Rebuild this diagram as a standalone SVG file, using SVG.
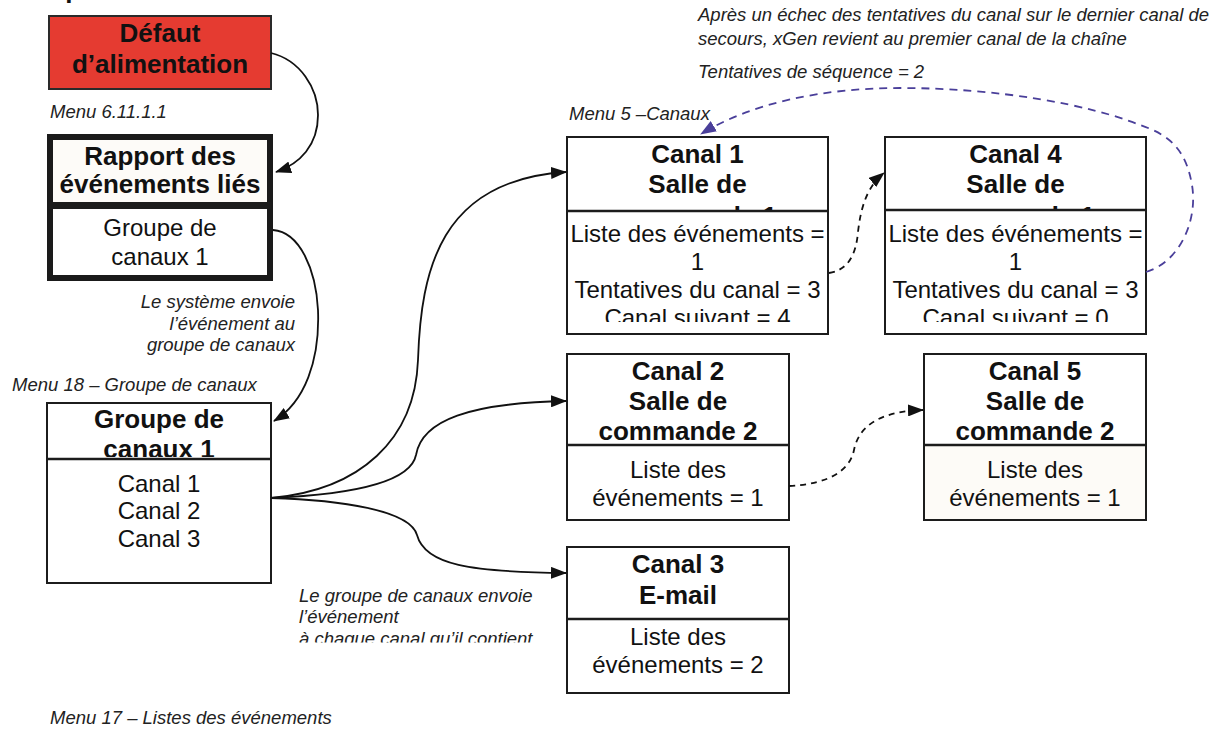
<svg xmlns="http://www.w3.org/2000/svg" width="1216" height="729" viewBox="0 0 1216 729">
  <style>
    text { font-family: "Liberation Sans", Arial, sans-serif; fill: #111; }
    .hd { font-size: 26px; font-weight: bold; text-anchor: middle; }
    .bd { font-size: 24px; text-anchor: middle; }
    .note { font-size: 18.5px; font-style: italic; fill: #222; }
    .box { fill: #fff; stroke: #1c1c1c; stroke-width: 2; }
    .div { stroke: #1c1c1c; stroke-width: 2.5; }
    .link { fill: none; stroke: #111; stroke-width: 1.8; }
    .dash { fill: none; stroke: #111; stroke-width: 1.8; stroke-dasharray: 6 5; }
    .loop { fill: none; stroke: #4a3f9a; stroke-width: 1.8; stroke-dasharray: 8 6; }
  </style>
  <defs>
    <marker id="arr" markerUnits="userSpaceOnUse" markerWidth="16" markerHeight="12" refX="15" refY="6" orient="auto">
      <path d="M0,0 L16,6 L0,12 Z" fill="#111"/>
    </marker>
    <marker id="arrP" markerUnits="userSpaceOnUse" markerWidth="16" markerHeight="12" refX="15" refY="6" orient="auto">
      <path d="M0,0 L16,6 L0,12 Z" fill="#4a3f9a"/>
    </marker>
    <clipPath id="cpGrpHd"><rect x="48" y="404" width="222" height="53"/></clipPath>
    <clipPath id="cpC1Hd"><rect x="568" y="138" width="259" height="72"/></clipPath>
    <clipPath id="cpC1Bd"><rect x="568" y="212" width="259" height="110"/></clipPath>
    <clipPath id="cpC4Hd"><rect x="886" y="138" width="259" height="71"/></clipPath>
    <clipPath id="cpC4Bd"><rect x="886" y="211" width="259" height="111"/></clipPath>
    <clipPath id="cpNote"><rect x="290" y="580" width="270" height="62.5"/></clipPath>
  </defs>

  <!-- clipped heading at the top edge -->
  <text x="65.3" y="-2" style="font-size:26px;font-weight:bold">p</text>

  <!-- free labels -->
  <g id="labels">
    <text class="note" x="50" y="118">Menu 6.11.1.1</text>
    <text class="note" x="295" y="308" text-anchor="end">Le système envoie</text>
    <text class="note" x="295" y="330" text-anchor="end">l’événement au</text>
    <text class="note" x="295" y="351" text-anchor="end">groupe de canaux</text>
    <text class="note" x="12" y="391">Menu 18 – Groupe de canaux</text>
    <text class="note" x="569" y="120">Menu 5 –Canaux</text>
    <text class="note" x="698" y="21">Après un échec des tentatives du canal sur le dernier canal de</text>
    <text class="note" x="698" y="45">secours, xGen revient au premier canal de la chaîne</text>
    <text class="note" x="698" y="78">Tentatives de séquence = 2</text>
    <g clip-path="url(#cpNote)">
      <text class="note" x="299" y="601.5">Le groupe de canaux envoie</text>
      <text class="note" x="299" y="623">l’événement</text>
      <text class="note" x="299" y="644.5">à chaque canal qu’il contient</text>
    </g>
    <text class="note" x="50" y="724">Menu 17 – Listes des événements</text>
  </g>

  <!-- power failure trigger -->
  <g id="defaut">
    <rect x="49" y="16" width="222" height="73" fill="#e53b31" stroke="#2a2a2a" stroke-width="2"/>
    <text class="hd" x="160" y="42">Défaut</text>
    <text class="hd" x="160" y="73">d’alimentation</text>
  </g>

  <!-- linked event report -->
  <g id="rapport">
    <rect x="50" y="137" width="220" height="141" fill="#fff" stroke="#1a1a1a" stroke-width="6"/>
    <rect x="53" y="140" width="214" height="63" fill="#fdfbf8"/>
    <line class="div" x1="49" y1="205.5" x2="271" y2="205.5" style="stroke-width:7"/>
    <text class="hd" x="160" y="165">Rapport des</text>
    <text class="hd" x="160" y="193">événements liés</text>
    <text class="bd" x="160" y="236">Groupe de</text>
    <text class="bd" x="160" y="265">canaux 1</text>
  </g>

  <!-- channel group -->
  <g id="groupe">
    <rect class="box" x="47" y="403" width="224" height="180"/>
    <g clip-path="url(#cpGrpHd)">
      <text class="hd" x="159" y="428">Groupe de</text>
      <text class="hd" x="159" y="458">canaux 1</text>
    </g>
    <line class="div" x1="47" y1="459" x2="271" y2="459"/>
    <text class="bd" x="159" y="492">Canal 1</text>
    <text class="bd" x="159" y="519">Canal 2</text>
    <text class="bd" x="159" y="547">Canal 3</text>
  </g>

  <!-- channel 1 -->
  <g id="canal1">
    <rect class="box" x="567" y="137" width="261" height="197"/>
    <g clip-path="url(#cpC1Hd)">
      <text class="hd" x="697.5" y="163">Canal 1</text>
      <text class="hd" x="697.5" y="193">Salle de</text>
      <text class="hd" x="697.5" y="225">commande 1</text>
    </g>
    <line class="div" x1="567" y1="211" x2="828" y2="211"/>
    <g clip-path="url(#cpC1Bd)">
      <text class="bd" x="697.5" y="242">Liste des événements =</text>
      <text class="bd" x="697.5" y="270">1</text>
      <text class="bd" x="697.5" y="298">Tentatives du canal = 3</text>
      <text class="bd" x="697.5" y="326">Canal suivant = 4</text>
    </g>
  </g>

  <!-- channel 4 -->
  <g id="canal4">
    <rect class="box" x="885" y="137" width="261" height="197"/>
    <g clip-path="url(#cpC4Hd)">
      <text class="hd" x="1015.5" y="163">Canal 4</text>
      <text class="hd" x="1015.5" y="193">Salle de</text>
      <text class="hd" x="1015.5" y="225">commande 1</text>
    </g>
    <line class="div" x1="885" y1="210" x2="1146" y2="210"/>
    <g clip-path="url(#cpC4Bd)">
      <text class="bd" x="1015.5" y="242">Liste des événements =</text>
      <text class="bd" x="1015.5" y="270">1</text>
      <text class="bd" x="1015.5" y="298">Tentatives du canal = 3</text>
      <text class="bd" x="1015.5" y="326">Canal suivant = 0</text>
    </g>
  </g>

  <!-- channel 2 -->
  <g id="canal2">
    <rect class="box" x="567" y="354" width="222" height="166"/>
    <text class="hd" x="678" y="380">Canal 2</text>
    <text class="hd" x="678" y="410">Salle de</text>
    <text class="hd" x="678" y="440">commande 2</text>
    <line class="div" x1="567" y1="445" x2="789" y2="445"/>
    <text class="bd" x="678" y="478">Liste des</text>
    <text class="bd" x="678" y="506">événements = 1</text>
  </g>

  <!-- channel 5 -->
  <g id="canal5">
    <rect class="box" x="924" y="354" width="222" height="166"/>
    <rect x="925" y="446" width="220" height="73" fill="#fdfbf7"/>
    <text class="hd" x="1035" y="380">Canal 5</text>
    <text class="hd" x="1035" y="410">Salle de</text>
    <text class="hd" x="1035" y="440">commande 2</text>
    <line class="div" x1="924" y1="445" x2="1146" y2="445"/>
    <text class="bd" x="1035" y="478">Liste des</text>
    <text class="bd" x="1035" y="506">événements = 1</text>
  </g>

  <!-- channel 3 -->
  <g id="canal3">
    <rect class="box" x="567" y="547" width="222" height="146"/>
    <text class="hd" x="678" y="573">Canal 3</text>
    <text class="hd" x="678" y="604">E-mail</text>
    <line class="div" x1="567" y1="619" x2="789" y2="619"/>
    <text class="bd" x="678" y="645">Liste des</text>
    <text class="bd" x="678" y="673">événements = 2</text>
  </g>

  <!-- connectors -->
  <g id="connectors">
    <path class="link" d="M271,53 C300,60 318,88 318,115 C318,145 300,164 276,172" marker-end="url(#arr)"/>
    <path class="link" d="M273,230 C300,232 316,270 318,310 C320,360 305,402 274,421" marker-end="url(#arr)"/>
    <path class="link" d="M271,498 C360,490 415,440 418,360 C421,270 440,180 566,172" marker-end="url(#arr)"/>
    <path class="link" d="M271,498 C340,495 410,485 416,455 C422,420 470,403 566,401" marker-end="url(#arr)"/>
    <path class="link" d="M271,498 C340,500 410,510 417,535 C425,565 470,572 566,573" marker-end="url(#arr)"/>
    <path class="dash" d="M829,273 C848,270 856,255 858,232 C861,205 868,186 884,173" marker-end="url(#arr)"/>
    <path class="dash" d="M789,486 C830,484 850,470 854,450 C860,420 890,411 923,410" marker-end="url(#arr)"/>
    <path class="loop" d="M1146,272 C1180,262 1198,220 1192,185 C1186,150 1170,135 1140,125 C1090,105 1000,88 900,88 C820,88 750,104 701,134" marker-end="url(#arrP)"/>
  </g>
</svg>
